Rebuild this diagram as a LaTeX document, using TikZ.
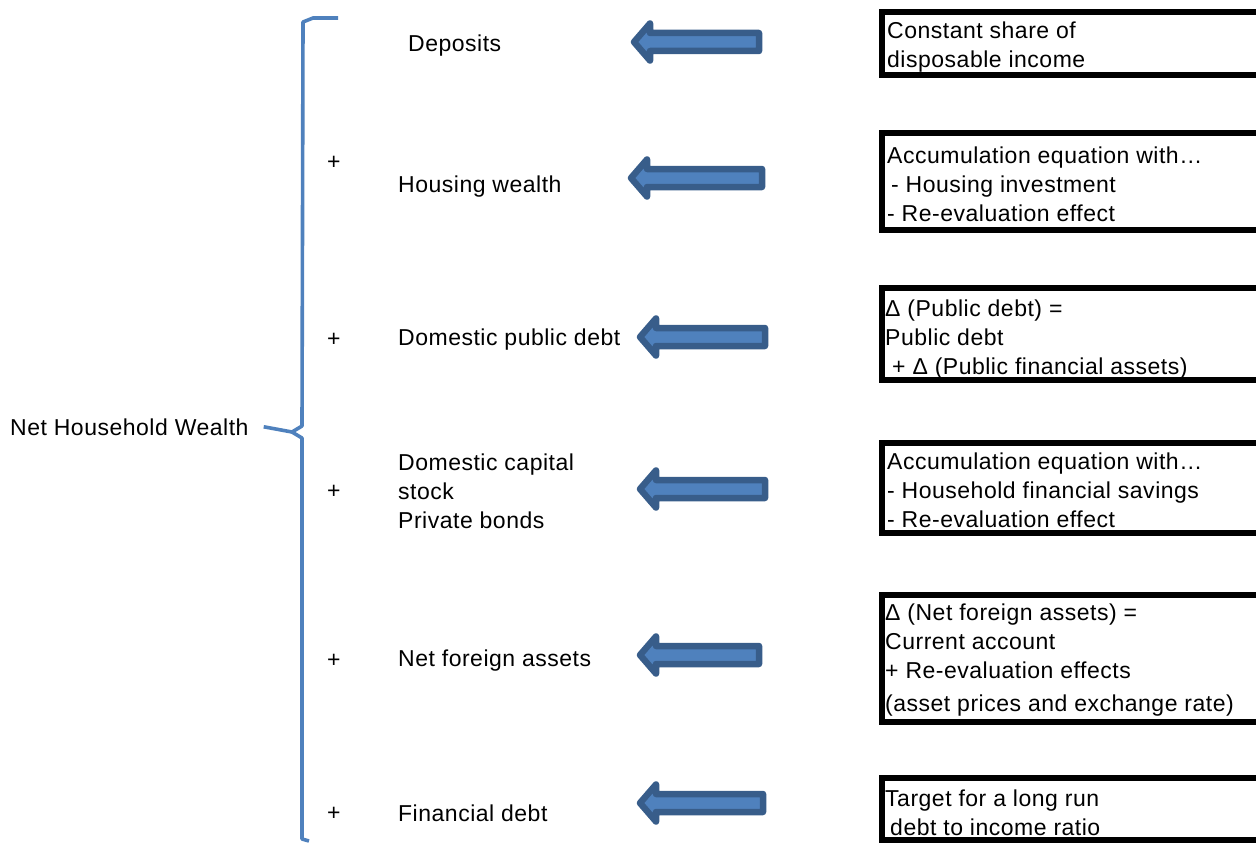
\documentclass[tikz,border=0pt]{standalone}
\usepackage{fontspec}
\setmainfont{Liberation Sans}[LetterSpace=2.2]
\definecolor{bfill}{HTML}{4F81BD}
\definecolor{bline}{HTML}{385D8A}
\tikzset{
  lbl/.style={anchor=base west, inner sep=0pt, font=\fontsize{23}{29}\selectfont},
  boxtxt/.style={anchor=north west, inner sep=0pt, align=left, font=\fontsize{23}{29}\selectfont},
  boxline/.style={draw=black, line width=5.4pt},
  brace/.style={draw=bfill, line width=3.6pt, line join=round},
  barrow/.style={fill=bfill, draw=bline, line width=6.5pt, line join=round}
}
\newcommand\blockarrow[3]{%
  \draw[barrow] (#1+4,#3) -- (#1+20,#3-18.5) -- (#1+20,#3-9) -- (#2-3,#3-9)
    -- (#2-3,#3+9) -- (#1+20,#3+9) -- (#1+20,#3+18.5) -- cycle;}
\newcommand\rframe[2]{%
  \draw[boxline] (1256,#1) -- (882,#1) -- (882,#2) -- (1256,#2);}
\begin{document}
\begin{tikzpicture}[x=1pt,y=-1pt]
\useasboundingbox (0,0) rectangle (1256,843);

% left label and bracket
\node[lbl] (nhw) at (10,435) {Net Household Wealth};
\coordinate (tip) at (292,432);
\draw[brace] (338,18) -- (313,18) -- (303,22) -- (302,426) -- (tip)
  -- (302,438) -- (302,839) -- (309,841);
\draw[brace] ([xshift=15pt]nhw.east) -- (tip);

% middle labels
\node[lbl] (dep) at (408,52) {Deposits};
\node[lbl] (p2) at (327,169.5) {+};
\node[lbl] (hw) at (398,192) {Housing wealth};
\node[lbl] (p3) at (327,346.5) {+};
\node[lbl] (dpd) at (398,345) {Domestic public debt};
\node[lbl] (p4) at (327,498.5) {+};
\node[boxtxt] (dcs) at (398,453.3) {Domestic capital\\stock\\Private bonds};
\node[lbl] (p5) at (327,667.5) {+};
\node[lbl] (nfa) at (398,666) {Net foreign assets};
\node[lbl] (p6) at (327,820.5) {+};
\node[lbl] (fd) at (398,821) {Financial debt};

% arrows
\blockarrow{630}{762}{42}
\blockarrow{627}{765}{178}
\blockarrow{636}{768}{337}
\blockarrow{636}{768}{489}
\blockarrow{636}{762}{655}
\blockarrow{636}{766}{803}

% right boxes
\node[boxtxt] (b1) at (887,21.3) {Constant share of\\disposable income};
\rframe{12}{75}
\node[boxtxt] (b2) at (887,146.3) {Accumulation equation with…\\\hspace*{4pt}- Housing investment\\- Re-evaluation effect};
\rframe{133}{230}
\node[boxtxt] (b3) at (885,299.3) {Δ (Public debt) =\\Public debt\\\hspace*{7pt}+ Δ (Public financial assets)};
\rframe{288}{380}
\node[boxtxt] (b4) at (887,452.3) {Accumulation equation with…\\- Household financial savings\\- Re-evaluation effect};
\rframe{443}{533}
\node[boxtxt] (b5) at (885,603.3) {Δ (Net foreign assets) =\\Current account\\+ Re-evaluation effects\\[4pt](asset prices and exchange rate)};
\rframe{595}{722}
\node[boxtxt] (b6) at (885,789.3) {Target for a long run\\\hspace*{5pt}debt to income ratio};
\rframe{778}{840}
\end{tikzpicture}
\end{document}
